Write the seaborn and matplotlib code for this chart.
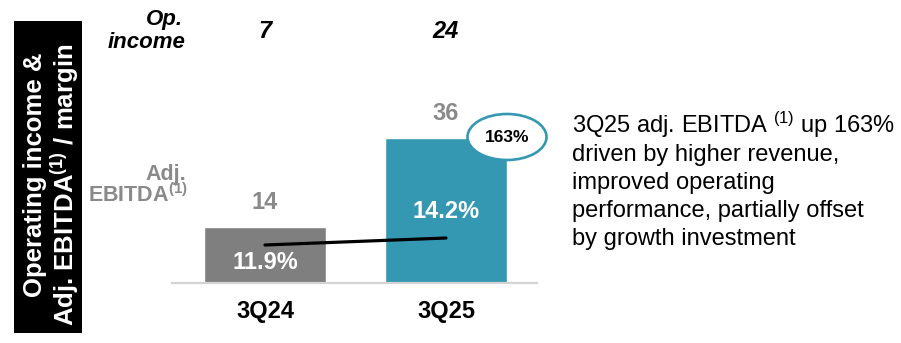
import matplotlib
matplotlib.use("Agg")
import matplotlib.pyplot as plt
import matplotlib.transforms as mtransforms
from matplotlib.patches import Ellipse, Rectangle
import pandas as pd
import seaborn as sns

# ---- data ----
periods = ["3Q24", "3Q25"]
adj_ebitda = [14, 36]
margin_pct = [11.9, 14.2]
op_income = [7, 24]
growth_label = "163%"
bar_colors = ["#7f7f7f", "#3598b3"]

commentary = [
    r"3Q25 adj. EBITDA $^{\mathrm{(1)}}$ up 163%",
    "driven by higher revenue,",
    "improved operating",
    "performance, partially offset",
    "by growth investment",
]

# ---- style ----
sns.set_theme(style="white")
plt.rcParams["font.family"] = ["Liberation Sans", "DejaVu Sans"]
plt.rcParams["mathtext.fontset"] = "custom"
plt.rcParams["mathtext.rm"] = "Liberation Sans"
plt.rcParams["mathtext.bf"] = "Liberation Sans:bold"
plt.rcParams["mathtext.it"] = "Liberation Sans:italic"

W, H = 901, 343
fig = plt.figure(figsize=(W / 100, H / 100), dpi=100)
fig.patch.set_facecolor("white")

# main bar axes: spans x 172..537 px, baseline at y=283 px, 200 px tall
ax = fig.add_axes([172 / W, 1 - 283 / H, 365 / W, 200 / H])
df = pd.DataFrame({"period": periods, "ebitda": adj_ebitda})
sns.barplot(data=df, x="period", y="ebitda", hue="period", palette=bar_colors,
            order=periods, width=0.674, legend=False, saturation=1, ax=ax)
ax.set_xlim(-0.514, 1.503)
ax.set_ylim(0, 49.6)
ax.set_xlabel("")
ax.set_ylabel("")
ax.set_yticks([])
for side in ["top", "right", "left"]:
    ax.spines[side].set_visible(False)
ax.spines["bottom"].set_color("#d4d4d4")
ax.spines["bottom"].set_linewidth(1.6)
ax.tick_params(axis="x", length=0, pad=12.5)
for lbl in ax.get_xticklabels():
    lbl.set_fontsize(17)
    lbl.set_fontweight("bold")
    lbl.set_color("black")

# EBITDA values above the bars
for i, v in enumerate(adj_ebitda):
    ax.annotate(f"{v}", (i, v), xytext=(0, 17.5), textcoords="offset points",
                ha="center", va="center", fontsize=17, fontweight="bold",
                color="#8a8a8a")

# margin labels inside the bars
label_frac = [0.36, 0.49]
for i, (v, m) in enumerate(zip(adj_ebitda, margin_pct)):
    ax.text(i, v * label_frac[i], f"{m:.1f}%", ha="center", va="center",
            fontsize=17, fontweight="bold", color="white")

# margin line on its own scale
ax2 = ax.twinx()
sns.lineplot(x=list(range(len(periods))), y=margin_pct, ax=ax2,
             color="black", linewidth=2.3)
ax2.set_ylim(-0.6, 65.2)
ax2.set_axis_off()
ax2.set_xlim(ax.get_xlim())

# overlay in pixel coordinates for annotations
ov = fig.add_axes([0, 0, 1, 1])
ov.set_xlim(0, W)
ov.set_ylim(H, 0)
ov.set_axis_off()
ov.set_zorder(5)

# side banner
ov.add_patch(Rectangle((14, 21), 68, 312, facecolor="black", edgecolor="none"))
ov.text(35, 175, "Operating income &", rotation=90, ha="center", va="center",
        fontsize=18.5, fontweight="bold", color="white")
ov.text(65, 185, r"Adj. EBITDA$^{\mathbf{(1)}}$ / margin", rotation=90,
        ha="center", va="center", fontsize=18.5, fontweight="bold", color="white")

# row headers
ov.text(183, 25, "Op.", ha="right", va="baseline", fontsize=16,
        fontweight="bold", fontstyle="italic", color="black")
ov.text(185, 48, "income", ha="right", va="baseline", fontsize=16,
        fontweight="bold", fontstyle="italic", color="black")
ov.text(186, 180, "Adj.", ha="right", va="baseline", fontsize=15.5,
        fontweight="bold", color="#8a8a8a")
ov.text(188, 202, r"EBITDA$^{\mathbf{(1)}}$", ha="right", va="baseline",
        fontsize=15.5, fontweight="bold", color="#8a8a8a")

# operating income row
blend = mtransforms.blended_transform_factory(ax.transData, ov.transData)
for i, v in enumerate(op_income):
    ov.text(i, 38, f"{v}", transform=blend, ha="center", va="baseline",
            fontsize=17, fontweight="bold", fontstyle="italic", color="black")

# growth bubble
ov.add_patch(Ellipse((507, 137), 79, 46, facecolor="white",
                     edgecolor=bar_colors[1], linewidth=1.9))
ov.text(507, 138, growth_label, ha="center", va="center", fontsize=12.5,
        fontweight="bold", color="black")

# commentary
for k, line in enumerate(commentary):
    ov.text(572, 133 + 28 * k, line, ha="left", va="baseline", fontsize=17,
            color="black")

fig.savefig("out.png", dpi=100)
